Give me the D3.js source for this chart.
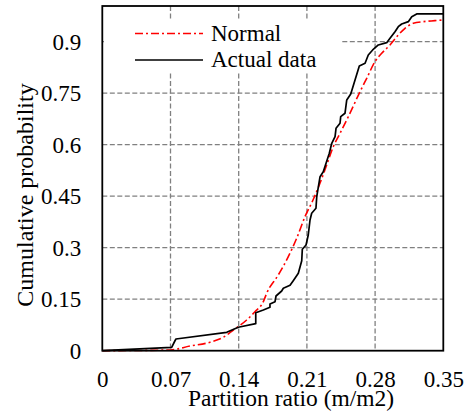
<!DOCTYPE html>
<html>
<head>
<meta charset="utf-8">
<script src="https://cdn.jsdelivr.net/npm/d3@7"></script>
<style>
  html, body { margin: 0; padding: 0; background: #fff; }
  svg { display: block; }
  svg text { font-family: 'Liberation Serif', 'Times New Roman', Times, 'DejaVu Serif', serif; fill: #000; }
</style>
</head>
<body>
<svg id="chart" width="466" height="413"></svg>
<script>
// Tick values for both axes
const xTicks = [0, 0.07, 0.14, 0.21, 0.28, 0.35];
const yTicks = [0, 0.15, 0.3, 0.45, 0.6, 0.75, 0.9];

// Empirical cumulative distribution of the partition ratio
const actualX = [0, 0.0712, 0.0746, 0.0756, 0.1277, 0.1396, 0.1575, 0.1575, 0.1653, 0.1721,
  0.1721, 0.1773, 0.1783, 0.1841, 0.1858, 0.1927, 0.1960, 0.2012, 0.2047, 0.2053,
  0.2091, 0.2114, 0.2132, 0.2149, 0.2193, 0.2201, 0.2235, 0.2268, 0.2330, 0.2355,
  0.2389, 0.2399, 0.2440, 0.2447, 0.2491, 0.2509, 0.2550, 0.2594, 0.2638, 0.2697,
  0.2730, 0.2775, 0.2833, 0.2919, 0.2953, 0.3004, 0.3038, 0.3073, 0.3141, 0.3176,
  0.3227, 0.35];
const actualP = [0, 0.0099, 0.029, 0.034, 0.0536, 0.0682, 0.0787, 0.1107, 0.1186, 0.1264,
  0.136, 0.1427, 0.1593, 0.1739, 0.1818, 0.1905, 0.2039, 0.2255, 0.2622, 0.2954,
  0.3079, 0.337, 0.3807, 0.4002, 0.4148, 0.4486, 0.5068, 0.5214, 0.575, 0.6041,
  0.6234, 0.6478, 0.6624, 0.6816, 0.6915, 0.7303, 0.7478, 0.7885, 0.8293, 0.8372,
  0.8613, 0.8759, 0.8905, 0.8972, 0.91, 0.9292, 0.9438, 0.9516, 0.9584, 0.9729,
  0.9808, 0.9808];

// Fitted normal cumulative distribution
const normalX = [0, 0.0695, 0.090, 0.1105, 0.1242, 0.1345, 0.1482, 0.1567, 0.1653, 0.1687,
  0.1806, 0.1909, 0.1995, 0.2080, 0.2166, 0.2234, 0.2303, 0.2371, 0.2440, 0.2525,
  0.2645, 0.2714, 0.2799, 0.2868, 0.2953, 0.3038, 0.3107, 0.3192, 0.3294, 0.3414, 0.35];
const normalP = [0, 0.002, 0.0137, 0.0245, 0.039, 0.0603, 0.0894, 0.1136, 0.1427, 0.1672,
  0.2205, 0.2738, 0.3274, 0.3903, 0.441, 0.4876, 0.5409, 0.5942, 0.6333, 0.6816,
  0.7544, 0.7935, 0.8418, 0.8663, 0.8905, 0.9196, 0.9391, 0.9537, 0.9584, 0.9613, 0.9633];

const FONT = "'Liberation Serif', 'Times New Roman', Times, 'DejaVu Serif', serif";
const svg = d3.select("#chart").attr("font-family", FONT);
const plotL = 102.3, plotR = 443.3, plotT = 6, plotB = 350.7;

const x = d3.scaleLinear().domain([0, 0.35]).range([plotL, plotR]);
const y = d3.scaleLinear().domain([0, 1.004]).range([plotB, plotT]);

// Dashed grid
const grid = svg.append("g")
  .attr("stroke", "#808080").attr("stroke-width", 1.3).attr("stroke-dasharray", "5,2.5");
grid.selectAll("line.v").data(xTicks.slice(1, -1)).join("line").attr("class", "v")
  .attr("x1", d => x(d)).attr("x2", d => x(d)).attr("y1", plotT).attr("y2", plotB);
grid.selectAll("line.h").data(yTicks.slice(1)).join("line").attr("class", "h")
  .attr("x1", plotL).attr("x2", plotR).attr("y1", d => y(d)).attr("y2", d => y(d));

// Axes (labels only; the frame is drawn separately)
const xAxis = svg.append("g").attr("transform", `translate(0,${plotB})`)
  .call(d3.axisBottom(x).tickValues(xTicks).tickSize(0).tickPadding(20)
    .tickFormat(d => d === 0 ? "0" : d3.format(".2f")(d)));
xAxis.attr("font-family", FONT).attr("font-size", 23);
xAxis.select(".domain").remove();

const yAxis = svg.append("g").attr("transform", `translate(${plotL},0)`)
  .call(d3.axisLeft(y).tickValues(yTicks).tickSize(0).tickPadding(21)
    .tickFormat(d => d === 0 ? "0" : String(d)));
yAxis.attr("font-family", FONT).attr("font-size", 23);
yAxis.select(".domain").remove();

// Legend background
svg.append("rect").attr("x", 104).attr("y", 21).attr("width", 236).attr("height", 52)
  .attr("fill", "#fff");

// Curves
const actual = actualX.map((v, i) => [v, actualP[i]]);
const normal = normalX.map((v, i) => [v, normalP[i]]);

svg.append("path").datum(normal)
  .attr("fill", "none").attr("stroke", "#ff0000").attr("stroke-width", 1.6)
  .attr("stroke-dasharray", "8,3,2,3")
  .attr("d", d3.line().x(d => x(d[0])).y(d => y(d[1])).curve(d3.curveMonotoneX));

svg.append("path").datum(actual)
  .attr("fill", "none").attr("stroke", "#000").attr("stroke-width", 1.7)
  .attr("stroke-linejoin", "round")
  .attr("d", d3.line().x(d => x(d[0])).y(d => y(d[1])));

// Frame
svg.append("rect").attr("x", plotL).attr("y", plotT)
  .attr("width", plotR - plotL).attr("height", plotB - plotT)
  .attr("fill", "none").attr("stroke", "#000").attr("stroke-width", 1.8);

// Legend
const legend = svg.append("g").attr("font-size", 23);
legend.append("line").attr("x1", 135).attr("x2", 203).attr("y1", 33.5).attr("y2", 33.5)
  .attr("stroke", "#ff0000").attr("stroke-width", 1.6).attr("stroke-dasharray", "8,3,2,3");
legend.append("text").attr("x", 211).attr("y", 41).text("Normal");
legend.append("line").attr("x1", 135).attr("x2", 203).attr("y1", 60).attr("y2", 60)
  .attr("stroke", "#000").attr("stroke-width", 1.7);
legend.append("text").attr("x", 211).attr("y", 67).text("Actual data");

// Axis titles
svg.append("text").attr("x", 291).attr("y", 406).attr("text-anchor", "middle")
  .attr("font-size", 23.5).text("Partition ratio (m/m2)");
svg.append("text").attr("transform", "translate(33,195) rotate(-90)")
  .attr("text-anchor", "middle").attr("font-size", 24).text("Cumulative probability");
</script>
</body>
</html>
